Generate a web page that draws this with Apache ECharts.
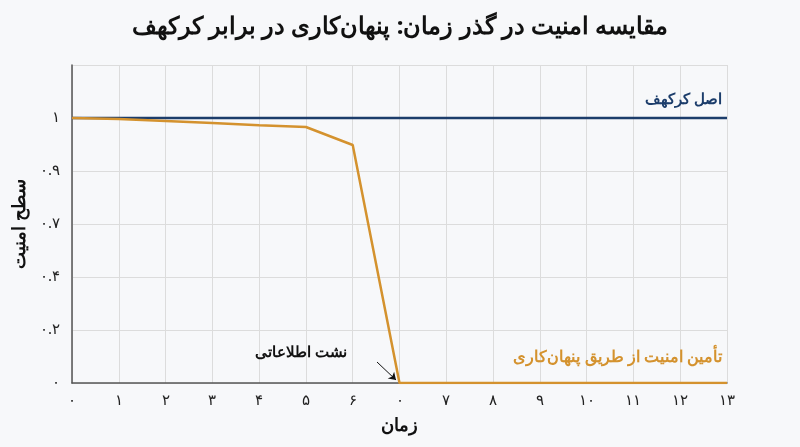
<!DOCTYPE html>
<html><head><meta charset="utf-8">
<script src="https://cdn.jsdelivr.net/npm/echarts@6/dist/echarts.min.js"></script>
<style>html,body{margin:0;background:#f7f8fa}#main{width:800px;height:447px}</style>
</head><body><div id="main"></div>
<script>
var xLabels = ['۰','۱','۲','۳','۴','۵','۶','۰','۷','۸','۹','۱۰','۱۱','۱۲','۱۳'];
var yLabels = {0:'۰', 0.2:'۰.۲', 0.4:'۰.۴', 0.6:'۰.۷', 0.8:'۰.۹', 1:'۱'};
var kerckhoffs = [1,1,1,1,1,1,1,1,1,1,1,1,1,1,1];
var obscurity = [1,0.996,0.989,0.981,0.973,0.966,0.898,0,0,0,0,0,0,0,0];

var font = 'Noto Sans';
var chart = echarts.init(document.getElementById('main'));
chart.setOption({
  backgroundColor:'#f7f8fa',
  textStyle:{fontFamily:font},
  title:{text:'مقایسه امنیت در گذر زمان: پنهان‌کاری در برابر کرکهف', left:'center', top:10,
    textStyle:{fontSize:24, fontWeight:'bold', color:'#111', fontFamily:font}},
  grid:{left:72, right:73, top:65, bottom:64},
  xAxis:{type:'category', data:xLabels, boundaryGap:false,
    name:'زمان', nameLocation:'middle', nameGap:34,
    nameTextStyle:{fontSize:18, fontWeight:'bold', color:'#111'},
    axisLine:{lineStyle:{color:'#555', width:1.5}}, axisTick:{show:false},
    axisLabel:{color:'#222', fontSize:15, margin:10},
    splitLine:{show:true, lineStyle:{color:'#dcdcdc'}}},
  yAxis:{type:'value', min:0, max:1.2, interval:0.2,
    name:'سطح امنیت', nameLocation:'middle', nameGap:40, nameRotate:90,
    nameTextStyle:{fontSize:18, fontWeight:'bold', color:'#111'},
    axisLine:{show:true, lineStyle:{color:'#555', width:1.5}}, axisTick:{show:false},
    axisLabel:{color:'#222', fontSize:15, margin:12,
      formatter:function(v){ var k=Math.round(v*10)/10; return yLabels[k]!==undefined?yLabels[k]:''; }},
    splitLine:{lineStyle:{color:'#dcdcdc'}}},
  series:[
    {type:'line', data:kerckhoffs, symbol:'none', lineStyle:{color:'#1c3d6b', width:2.5}, z:3,
     markPoint:{symbol:'circle', symbolSize:0, data:[{coord:[14,1]}],
       label:{show:true, formatter:'اصل کرکهف', position:'left', offset:[0,-18], align:'right',
         color:'#1c3d6b', fontWeight:'bold', fontSize:15}}},
    {type:'line', data:obscurity, symbol:'none', lineStyle:{color:'#d4922e', width:2.5}, z:4,
     markPoint:{symbol:'circle', symbolSize:0, data:[
       {coord:[14,0], label:{formatter:'تأمین امنیت از طریق پنهان‌کاری', offset:[0,-26], color:'#d4922e', fontSize:16}},
       {coord:[7,0], label:{formatter:'نشت اطلاعاتی', offset:[-48,-30], color:'#111', fontSize:15}}],
       label:{show:true, position:'left', align:'right', fontWeight:'bold'}},
     markLine:{silent:true, symbol:['none','arrow'], symbolSize:7,
       lineStyle:{color:'#111', width:1, type:'solid'}, label:{show:false},
       data:[[{x:377, y:362},{x:396, y:380}]]}}
  ]
});
</script></body></html>
